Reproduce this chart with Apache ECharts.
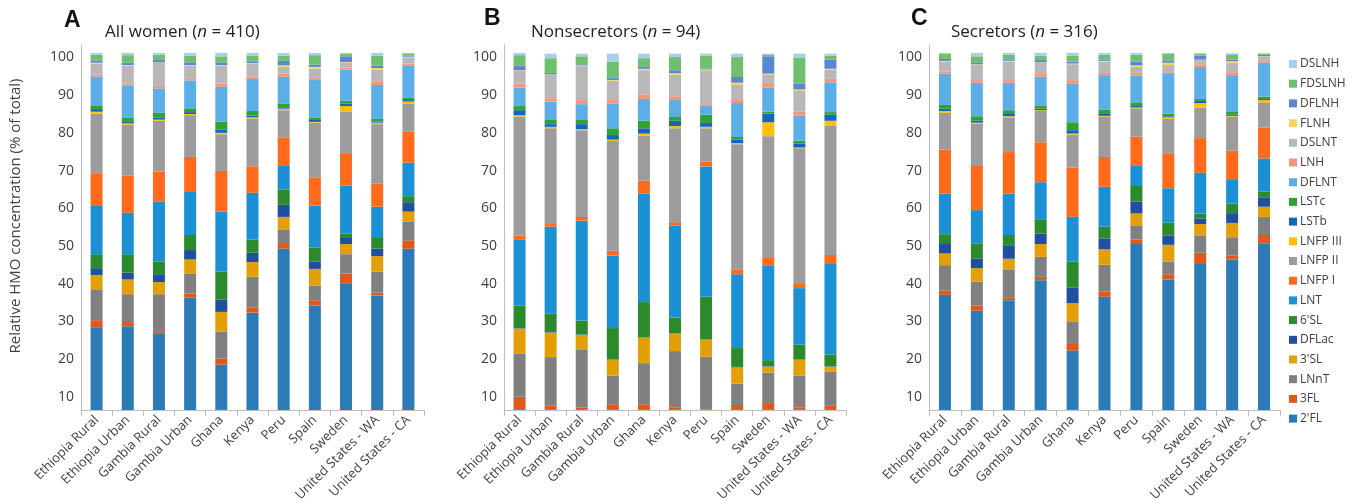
<!DOCTYPE html>
<html><head><meta charset="utf-8">
<script src="https://cdn.jsdelivr.net/npm/echarts@6/dist/echarts.min.js"></script>
<style>html,body{margin:0;padding:0;background:#fff}#c{width:1357px;height:504px}</style>
</head><body><div id="c"></div>
<script>
const categories = ['Ethiopia Rural','Ethiopia Urban','Gambia Rural','Gambia Urban','Ghana','Kenya','Peru','Spain','Sweden','United States - WA','United States - CA'];
const hmoNames = ["2'FL","3FL","LNnT","3'SL","DFLac","6'SL","LNT","LNFP I","LNFP II","LNFP III","LSTb","LSTc","DFLNT","LNH","DSLNT","FLNH","DFLNH","FDSLNH","DSLNH"];
const yTicks = [10,20,30,40,50,60,70,80,90,100];

// Panel A: All women (n = 410)
const A_2FL    = [28.4,28.7,26.8,36.3,18.5,32.3,49.3,34.2,40.1,36.8,49.3];
const A_3FL    = [1.9,1.1,0.6,1.1,1.6,1.4,1.2,1.4,2.6,0.8,2.2];
const A_LNnT   = [8.2,7.4,9.8,5.3,7.2,8.1,3.9,3.9,5.1,5.6,5.0];
const A_3SL    = [3.8,3.9,3.2,3.7,5.2,3.9,3.3,4.4,2.7,4.1,2.6];
const A_DFLac  = [1.8,1.8,2.1,2.5,3.3,2.5,3.2,2.0,1.6,2.0,2.5];
const A_6SL    = [3.7,4.9,3.4,4.0,7.4,3.5,4.1,3.7,1.2,2.8,1.6];
const A_LNT    = [12.8,11.0,15.8,11.4,15.9,12.4,6.4,11.1,12.7,8.3,8.9];
const A_LNFP1  = [8.7,9.9,8.0,9.3,10.8,7.0,7.4,7.5,8.4,6.2,8.3];
const A_LNFP2  = [15.8,13.5,13.5,11.1,9.7,12.7,7.2,14.5,11.3,15.7,7.4];
const A_LNFP3  = [0.5,0.3,0.3,0.3,0.4,0.3,0.4,0.2,1.4,0.4,0.5];
const A_LSTb   = [0.7,0.4,0.6,0.5,0.9,0.5,0.2,0.5,0.7,0.3,0.4];
const A_LSTc   = [1.0,1.2,1.3,1.0,2.1,1.2,1.2,0.7,0.7,0.7,0.7];
const A_DFLNT  = [7.6,8.5,6.4,7.4,9.2,8.5,7.1,9.9,8.3,9.0,8.5];
const A_LNH    = [0.5,0.5,0.6,0.6,0.9,0.6,0.8,0.5,0.5,0.8,0.5];
const A_DSLNT  = [3.0,4.7,6.2,3.4,4.8,3.4,1.8,2.5,1.4,3.3,1.6];
const A_FLNH   = [0.2,0.2,0.1,0.1,0.1,0.2,0.4,0.5,0.1,0.4,0.2];
const A_DFLNH  = [0.6,0.6,0.6,0.7,0.7,0.3,1.2,0.6,1.5,0.7,0.3];
const A_FDSLNH = [1.5,2.0,1.4,1.8,1.6,1.7,1.4,2.5,0.6,2.6,0.6];
const A_DSLNH  = [0.5,0.6,0.5,0.7,0.9,0.7,0.7,0.6,0.3,0.7,0.1];

// Panel B: Nonsecretors (n = 94)
const B_2FL    = [0.3,0.3,0.3,0.3,0.3,0.3,0.3,0.3,0.3,0.3,0.3];
const B_3FL    = [9.7,7.4,6.8,7.7,7.7,6.9,6.4,7.5,8.0,6.9,7.3];
const B_LNnT   = [11.5,12.8,15.3,7.6,10.9,14.9,13.9,5.7,8.1,8.4,9.0];
const B_3SL    = [6.6,6.5,4.0,4.2,6.8,4.7,4.6,4.3,1.6,4.2,1.4];
const B_DFLac  = [0.1,0.1,0.1,0.1,0.1,0.1,0.1,0.1,0.1,0.1,0.1];
const B_6SL    = [5.9,5.0,3.7,8.3,9.3,4.1,11.2,5.0,1.6,3.9,3.1];
const B_LNT    = [17.5,23.0,26.5,19.2,28.8,24.4,34.6,19.6,25.0,15.0,24.0];
const B_LNFP1  = [1.2,0.7,1.0,1.3,3.4,0.9,1.3,1.3,2.1,1.1,2.4];
const B_LNFP2  = [31.5,25.4,23.0,29.1,12.0,24.9,8.8,33.2,32.3,36.0,34.2];
const B_LNFP3  = [0.4,0.4,0.3,0.4,0.5,0.6,0.4,0.3,3.7,0.2,1.4];
const B_LSTb   = [1.3,0.7,1.3,1.2,1.4,1.4,1.0,0.9,2.3,1.1,1.6];
const B_LSTc   = [1.1,1.1,1.3,1.8,2.0,1.0,2.2,0.7,0.5,0.7,0.7];
const B_DFLNT  = [4.9,4.9,4.0,6.6,5.8,4.5,2.3,9.0,6.4,6.7,7.9];
const B_LNH    = [1.1,0.9,1.1,0.9,1.2,1.0,0.5,0.8,1.2,1.0,0.9];
const B_DSLNT  = [3.4,6.2,9.0,5.1,6.4,5.7,9.0,4.0,2.3,5.5,2.5];
const B_FLNH   = [0.1,0.1,0.2,0.2,0.4,0.4,0.2,0.6,0.2,0.4,0.2];
const B_DFLNH  = [1.1,0.4,0.3,0.5,0.5,0.8,0.2,1.5,4.6,1.6,2.4];
const B_FDSLNH = [2.9,3.9,2.1,4.4,2.3,3.5,3.5,5.3,0.5,6.9,1.1];
const B_DSLNH  = [0.6,1.2,0.7,2.1,1.2,0.9,0.5,0.9,0.2,1.0,0.5];

// Panel C: Secretors (n = 316)
const C_2FL    = [37.0,32.8,35.6,40.9,22.2,36.5,50.5,41.1,45.2,46.4,50.7];
const C_3FL    = [1.1,1.4,0.8,0.9,1.8,1.4,1.2,1.4,3.0,1.1,2.2];
const C_LNnT   = [6.8,6.3,7.4,5.3,6.0,7.1,3.6,3.4,4.6,4.8,4.8];
const C_3SL    = [3.1,3.6,2.8,3.4,4.8,4.1,3.3,4.4,3.0,3.8,2.7];
const C_DFLac  = [2.5,2.6,3.4,2.8,4.2,2.9,3.2,2.5,1.5,2.6,2.5];
const C_6SL    = [2.6,4.0,2.9,3.6,6.8,3.1,4.1,3.4,1.3,2.5,1.5];
const C_LNT    = [10.8,8.8,11.0,10.0,11.9,10.6,5.5,9.1,10.8,6.3,8.8];
const C_LNFP1  = [11.7,11.7,11.0,10.6,13.1,7.9,7.6,9.1,9.2,7.8,8.2];
const C_LNFP2  = [9.7,11.3,9.2,8.3,8.7,10.7,7.5,9.3,8.1,9.0,6.7];
const C_LNFP3  = [0.5,0.2,0.3,0.2,0.3,0.2,0.2,0.4,1.2,0.2,0.6];
const C_LSTb   = [0.6,0.5,0.6,0.4,0.9,0.5,0.4,0.3,0.6,0.4,0.3];
const C_LSTc   = [1.0,1.2,1.0,0.9,2.1,1.2,1.0,0.7,0.5,0.8,0.6];
const C_DFLNT  = [8.3,8.9,7.3,7.6,10.3,9.1,7.1,10.5,8.5,9.6,9.0];
const C_LNH    = [0.6,0.7,0.7,0.7,0.9,0.6,0.7,0.5,0.7,0.8,0.5];
const C_DSLNT  = [2.6,4.0,4.9,3.0,4.2,3.0,1.6,1.9,1.1,2.4,1.1];
const C_FLNH   = [0.2,0.2,0.2,0.1,0.2,0.2,0.4,0.6,0.1,0.5,0.1];
const C_DFLNH  = [0.5,0.5,0.4,0.6,0.5,0.4,1.0,0.5,1.1,0.4,0.4];
const C_FDSLNH = [1.3,1.6,1.2,1.2,1.6,1.2,1.8,1.8,0.5,1.4,0.3];
const C_DSLNH  = [0.3,0.9,0.5,0.7,0.7,0.5,0.5,0.3,0.2,0.3,0.2];

const panelA = [A_2FL,A_3FL,A_LNnT,A_3SL,A_DFLac,A_6SL,A_LNT,A_LNFP1,A_LNFP2,A_LNFP3,A_LSTb,A_LSTc,A_DFLNT,A_LNH,A_DSLNT,A_FLNH,A_DFLNH,A_FDSLNH,A_DSLNH];
const panelB = [B_2FL,B_3FL,B_LNnT,B_3SL,B_DFLac,B_6SL,B_LNT,B_LNFP1,B_LNFP2,B_LNFP3,B_LSTb,B_LSTc,B_DFLNT,B_LNH,B_DSLNT,B_FLNH,B_DFLNH,B_FDSLNH,B_DSLNH];
const panelC = [C_2FL,C_3FL,C_LNnT,C_3SL,C_DFLac,C_6SL,C_LNT,C_LNFP1,C_LNFP2,C_LNFP3,C_LSTb,C_LSTc,C_DFLNT,C_LNH,C_DSLNT,C_FLNH,C_DFLNH,C_FDSLNH,C_DSLNH];

const colors = ['#2A7BB6','#E0591C','#808080','#E3A006','#1F4F9E','#2A8A2C','#1C90D4','#FF6B1A','#9C9C9C','#FFC000','#1763C2','#2FA234','#5CAEE6','#F6957B','#B8B8B8','#FFD35E','#5A86D4','#6EBF6E','#A9CDEE'];

const FONT = "'Open Sans', sans-serif";
const TXT = '#404040';
const AX = '#BFBFBF';

const grids = [
  {left: 81, top: 45, width: 343, height: 365},
  {left: 504, top: 45, width: 342, height: 365},
  {left: 929, top: 45, width: 351, height: 365}
];

const xAxes = grids.map((g, i) => ({
  type: 'category', gridIndex: i, data: categories,
  axisLine: {lineStyle: {color: AX}},
  axisTick: {show: true, length: 6, lineStyle: {color: AX}},
  axisLabel: {rotate: 45, interval: 0, color: TXT, fontSize: 13, fontFamily: FONT, margin: 8}
}));
const yAxes = grids.map((g, i) => ({
  type: 'value', gridIndex: i, min: 6.5, max: 103.3,
  splitLine: {show: false},
  axisLine: {show: true, lineStyle: {color: AX}},
  axisTick: {show: false},
  axisLabel: {customValues: yTicks, color: TXT, fontSize: 14, fontFamily: FONT, margin: 7}
}));

const series = [];
[panelA, panelB, panelC].forEach((panel, pi) => {
  panel.forEach((vals, si) => {
    series.push({
      name: hmoNames[si], type: 'bar', stack: 'p' + pi,
      xAxisIndex: pi, yAxisIndex: pi, barWidth: 12,
      itemStyle: {color: colors[si]},
      data: vals
    });
  });
});

const titleRich = {i: {fontStyle: 'italic', fontSize: 17, color: '#222', fontFamily: FONT}};
const letterStyle = {fontSize: 23, fontWeight: 'bold', color: '#111', fontFamily: 'Liberation Sans, Arial'};
const labelStyle = {fontSize: 17, color: '#222', fontFamily: FONT, fontWeight: 'normal', rich: titleRich};
const titles = [
  {text: 'A', left: 64, top: 9, padding: 0, textStyle: letterStyle},
  {text: 'All women ({i|n} = 410)', left: 105, top: 24, padding: 0, textStyle: labelStyle},
  {text: 'B', left: 484, top: 7, padding: 0, textStyle: letterStyle},
  {text: 'Nonsecretors ({i|n} = 94)', left: 531, top: 24, padding: 0, textStyle: labelStyle},
  {text: 'C', left: 911, top: 7, padding: 0, textStyle: letterStyle},
  {text: 'Secretors ({i|n} = 316)', left: 951, top: 24, padding: 0, textStyle: labelStyle}
];

const chart = echarts.init(document.getElementById('c'), null, {renderer: 'canvas'});
chart.setOption({
  animation: false,
  backgroundColor: '#fff',
  title: titles,
  grid: grids,
  xAxis: xAxes,
  yAxis: yAxes,
  graphic: [{
    type: 'text', x: 16, y: 216, rotation: Math.PI / 2,
    style: {text: 'Relative HMO concentration (% of total)', fill: TXT, fontSize: 15, fontFamily: FONT, align: 'center', verticalAlign: 'middle'}
  }],
  legend: {
    orient: 'vertical', left: 1284, top: 52,
    data: hmoNames.slice().reverse(),
    itemWidth: 8, itemHeight: 8, itemGap: 5.7, icon: 'rect',
    textStyle: {color: TXT, fontSize: 12, fontFamily: FONT, lineHeight: 14, padding: [0,0,0,-2]}
  },
  series: series
});
</script>
</body></html>
